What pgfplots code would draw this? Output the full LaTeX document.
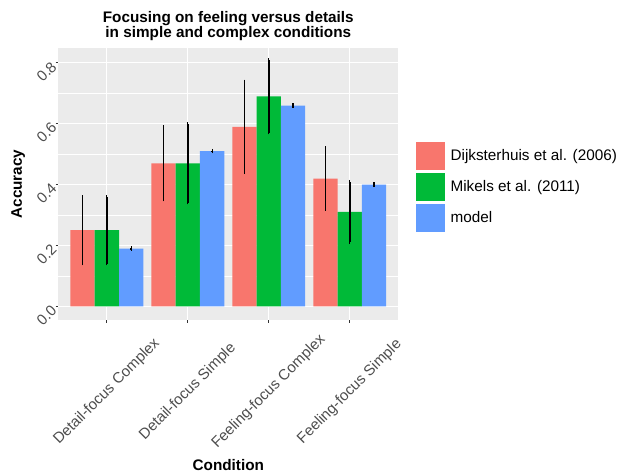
\documentclass[border=0pt]{standalone}
\usepackage{pgfplots}
\pgfplotsset{compat=1.18}
\usepackage{fontspec}
\setmainfont{Liberation Sans}
\definecolor{cR}{HTML}{F8766D}
\definecolor{cG}{HTML}{00BA38}
\definecolor{cB}{HTML}{619CFF}
\definecolor{panel}{HTML}{EBEBEB}
\definecolor{tickc}{HTML}{4D4D4D}
\definecolor{tickm}{HTML}{333333}
\newcommand{\fs}{\fontsize{15.3bp}{18bp}\selectfont}
\newcommand{\ft}{\fontsize{15bp}{18bp}\selectfont}
\begin{document}
\begin{tikzpicture}
\useasboundingbox (0,0) rectangle (624bp,473bp);
\begin{axis}[
  at={(58.3bp,153bp)}, anchor=south west,
  scale only axis, width=340bp, height=272.3bp,
  xmin=0.4, xmax=4.6, ymin=-0.045, ymax=0.85,
  axis background/.style={fill=panel},
  axis line style={draw=none},
  xtick={1,2,3,4},
  xticklabels={Detail-focus Complex,Detail-focus Simple,Feeling-focus Complex,Feeling-focus Simple},
  ytick={0,0.2,0.4,0.6,0.8},
  yticklabels={0.0,0.2,0.4,0.6,0.8},
  minor ytick={0.1,0.3,0.5,0.7},
  xmajorgrids, ymajorgrids, yminorgrids,
  major grid style={white, line width=1.07bp},
  minor grid style={white, line width=0.53bp},
  tick align=outside, xtick pos=left, ytick pos=left,
  major tick length=2.75bp, minor tick length=0pt,
  tick style={tickm, line width=1.07bp},
  ticklabel style={font=\ft, text=tickc},
  xticklabel style={yshift=-69bp, rotate=45, anchor=center},
  yticklabel style={rotate=45, anchor=east, inner sep=0pt, xshift=-2bp},
  ybar, bar width=0.3,
  error bars/y dir=both, error bars/y explicit,
  error bars/error bar style={black, line width=1.8bp},
  error bars/error mark options={black, line width=1.2bp, mark size=1.6bp},
  legend style={at={(1.052,0.4884)}, anchor=west, draw=none, fill=none,
    inner sep=0pt, outer sep=0pt, row sep=2.6bp, column sep=5.3bp,
    font=\fs, nodes={inner sep=0pt}},
  legend cell align=left,
  legend image code/.code={\fill[#1, draw=none] (0bp,-14.2bp) rectangle (29.3bp,14.2bp);},
]
\addplot[fill=cR, draw=none, bar shift=-0.3] coordinates {
  (1,0.25) +- (0,0.11)
  (2,0.47) +- (0,0.12)
  (3,0.59) +- (0,0.15)
  (4,0.42) +- (0,0.10)
};
\addplot[fill=cG, draw=none, bar shift=0] coordinates {
  (1,0.25) +- (0,0.11)
  (2,0.47) +- (0,0.13)
  (3,0.69) +- (0,0.12)
  (4,0.31) +- (0,0.10)
};
\addplot[fill=cB, draw=none, bar shift=0.3] coordinates {
  (1,0.19) +- (0,0.002)
  (2,0.51) +- (0,0.002)
  (3,0.66) +- (0,0.002)
  (4,0.40) +- (0,0.002)
};
\legend{Dijksterhuis et al. (2006),Mikels et al. (2011),model}
\end{axis}
\node[anchor=base, font=\fs\bfseries] at (228.3bp,450.3bp) {Focusing on feeling versus details};
\node[anchor=base, font=\fs\bfseries] at (228.3bp,435.7bp) {in simple and complex conditions};
\node[rotate=90, anchor=center, font=\fs\bfseries] at (18.3bp,289bp) {Accuracy};
\node[anchor=base, font=\fs\bfseries] at (228.3bp,2.3bp) {Condition};
\end{tikzpicture}
\end{document}
